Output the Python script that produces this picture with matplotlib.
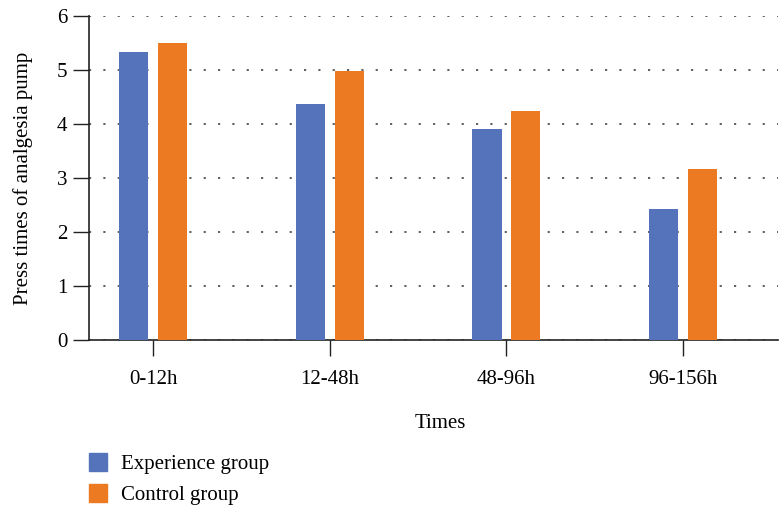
import numpy as np
import matplotlib
matplotlib.use("Agg")
import matplotlib.pyplot as plt
from matplotlib.patches import Patch

times = ["0-12h", "12-48h", "48-96h", "96-156h"]
experience = [5.34, 4.37, 3.91, 2.43]
control = [5.50, 4.99, 4.24, 3.17]

blue = "#5473BA"
orange = "#EC7A23"

plt.rcParams['font.family'] = ['Liberation Serif', 'DejaVu Serif']
plt.rcParams['font.size'] = 15

fig = plt.figure(figsize=(7.8, 5.08), dpi=100)
ax = fig.add_axes([0.114, 0.331, 0.884, 0.637])

x = np.arange(len(times))
w = 0.165
ax.bar(x - 0.11, experience, width=w, color=blue, zorder=3, label="Experience group")
ax.bar(x + 0.11, control, width=w, color=orange, zorder=3, label="Control group")

ax.set_ylim(0, 6)
ax.set_xlim(-0.363, 3.54)
ax.set_yticks(range(7))
ax.set_xticks(x)
ax.set_xticklabels(times)

ax.yaxis.grid(True, color="#444444", linestyle=(0, (1.3, 7.3)), linewidth=1.2, zorder=0)
ax.set_axisbelow(True)

for side in ("top", "right"):
    ax.spines[side].set_visible(False)
for side in ("left", "bottom"):
    ax.spines[side].set_linewidth(1.2)
    ax.spines[side].set_color("#222222")

ax.tick_params(axis="y", length=11.5, width=1.0, color="#222222", pad=4)
ax.tick_params(axis="x", length=11.5, width=1.0, color="#222222", pad=10)

ax.set_ylabel("Press times of analgesia pump", labelpad=17)
ax.set_xlabel("Times", labelpad=18)
ax.xaxis.label.set_x(0.509)

handles = [Patch(color=blue), Patch(color=orange)]
fig.legend(handles, ["Experience group", "Control group"],
           loc="lower left", bbox_to_anchor=(0.114, 0.005), frameon=False,
           borderpad=0, borderaxespad=0,
           handlelength=0.87, handleheight=0.96, handletextpad=0.67, labelspacing=0.5)

fig.savefig("out.png", dpi=100)
